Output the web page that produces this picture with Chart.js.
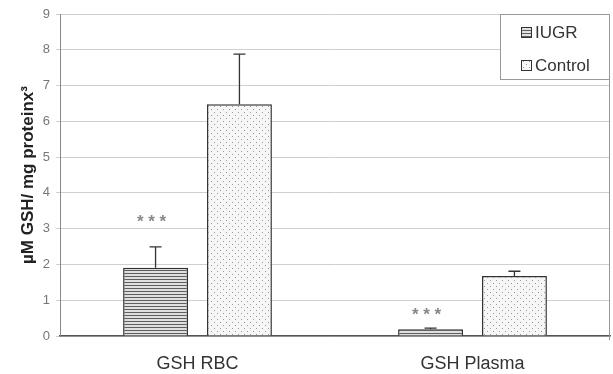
<!DOCTYPE html>
<html>
<head>
<meta charset="utf-8">
<script src="https://cdn.jsdelivr.net/npm/chart.js@4.4.1/dist/chart.umd.min.js"></script>
<style>
  html, body { margin: 0; padding: 0; background: #fff; }
  #wrap { width: 613px; height: 374px; position: relative; }
</style>
</head>
<body>
<div id="wrap"><canvas id="gsh"></canvas></div>
<script>
// data
const categories = ["GSH RBC", "GSH Plasma"];
const seriesNames = ["IUGR", "Control"];
const iugrVals = [1.91, 0.19];
const iugrErr = [0.58, 0.03];
const controlVals = [6.48, 1.68];
const controlErr = [1.40, 0.13];
const starLevels = [3.25, 0.65]; // "***" above the IUGR bars
const yTicks = [0, 1, 2, 3, 4, 5, 6, 7, 8, 9];

/* ---------- fill patterns ---------- */
function stripePattern() {
  const c = document.createElement("canvas");
  c.width = 4; c.height = 3;
  const g = c.getContext("2d");
  g.fillStyle = "#e0e0e0";
  g.fillRect(0, 0, 4, 3);
  g.fillStyle = "#5e5e5e";
  g.fillRect(0, 0, 4, 1);
  return g.createPattern(c, "repeat");
}

function dotPattern() {
  const c = document.createElement("canvas");
  c.width = 6; c.height = 6;
  const g = c.getContext("2d");
  g.fillStyle = "#f6f6f6";
  g.fillRect(0, 0, 6, 6);
  g.fillStyle = "#9a9a9a";
  g.fillRect(1, 1, 1, 1);
  g.fillRect(4, 4, 1, 1);
  return g.createPattern(c, "repeat");
}

const fills = [stripePattern(), dotPattern()];
const errs = [iugrErr, controlErr];

/* ---------- error bars + stars ---------- */
const errorBars = {
  id: "errorBars",
  afterDatasetsDraw(chart) {
    const { ctx, scales } = chart;
    ctx.save();
    ctx.strokeStyle = "#333";
    ctx.lineWidth = 1.3;
    chart.data.datasets.forEach((ds, i) => {
      const meta = chart.getDatasetMeta(i);
      meta.data.forEach((bar, j) => {
        const top = scales.y.getPixelForValue(ds.data[j] + errs[i][j]);
        ctx.beginPath();
        ctx.moveTo(bar.x, bar.y);
        ctx.lineTo(bar.x, top);
        ctx.moveTo(bar.x - 6, top);
        ctx.lineTo(bar.x + 6, top);
        ctx.stroke();
      });
    });
    // significance stars
    ctx.fillStyle = "#888";
    ctx.font = "bold 17px 'Liberation Sans', Arial, sans-serif";
    ctx.textAlign = "center";
    ctx.textBaseline = "middle";
    chart.getDatasetMeta(0).data.forEach((bar, j) => {
      ctx.fillText("* * *", bar.x - 4, scales.y.getPixelForValue(starLevels[j]) + 3);
    });
    ctx.restore();
  }
};

/* ---------- boxed legend inside the plot ---------- */
const boxLegend = {
  id: "boxLegend",
  afterDraw(chart) {
    const { ctx, chartArea } = chart;
    const w = 110, h = 66;
    const x = chartArea.right - w, y = chartArea.top;
    ctx.save();
    ctx.fillStyle = "#fff";
    ctx.fillRect(x, y, w, h);
    ctx.strokeStyle = "#999";
    ctx.lineWidth = 1;
    ctx.strokeRect(x + 0.5, y + 0.5, w - 1, h - 1);
    ctx.font = "17px 'Liberation Sans', Arial, sans-serif";
    ctx.textBaseline = "middle";
    seriesNames.forEach((name, i) => {
      const cy = y + 18 + i * 33;
      ctx.fillStyle = fills[i];
      ctx.fillRect(x + 21, cy - 5, 11, 11);
      ctx.strokeStyle = "#333";
      ctx.strokeRect(x + 21.5, cy - 4.5, 10, 10);
      ctx.fillStyle = "#333";
      ctx.fillText(name, x + 35, cy + 1);
    });
    ctx.restore();
  }
};

Chart.defaults.font.family = "'Liberation Sans', Arial, sans-serif";
Chart.defaults.animation = false;

new Chart(document.getElementById("gsh"), {
  type: "bar",
  data: {
    labels: categories,
    datasets: [
      {
        label: seriesNames[0],
        data: iugrVals,
        backgroundColor: fills[0],
        borderColor: "#333",
        borderWidth: 1.5
      },
      {
        label: seriesNames[1],
        data: controlVals,
        backgroundColor: fills[1],
        borderColor: "#333",
        borderWidth: 1.5
      }
    ]
  },
  options: {
    responsive: true,
    maintainAspectRatio: false,
    categoryPercentage: 0.61,
    barPercentage: 0.774,
    layout: { padding: { top: 14, right: 3, left: 0, bottom: 0 } },
    plugins: {
      legend: { display: false },
      tooltip: { enabled: false }
    },
    scales: {
      x: {
        grid: { display: false },
        border: { color: "#555", width: 1.5 },
        ticks: { color: "#333", font: { size: 18 }, padding: 9 },
        afterFit: s => { s.height = 38; }
      },
      y: {
        min: 0,
        max: 9,
        afterBuildTicks: s => { s.ticks = yTicks.map(v => ({ value: v })); },
        grid: { color: "#cfcfcf", drawTicks: true, tickLength: 4 },
        border: { color: "#888", width: 1 },
        ticks: { color: "#777", font: { size: 13 }, padding: 6 },
        title: {
          display: true,
          text: "µM GSH/ mg proteinx³",
          color: "#222",
          font: { size: 17, weight: "bold" },
          padding: { top: 18, bottom: 4 }
        },
        afterFit: s => { s.width = 60; }
      }
    }
  },
  plugins: [errorBars, boxLegend,
    {
      id: "rightEdge",
      beforeDatasetsDraw(chart) {
        const { ctx, chartArea } = chart;
        ctx.save();
        ctx.strokeStyle = "#999";
        ctx.lineWidth = 1;
        ctx.beginPath();
        ctx.moveTo(chartArea.right - 0.5, chartArea.top);
        ctx.lineTo(chartArea.right - 0.5, chartArea.bottom + 4);
        ctx.stroke();
        ctx.restore();
      }
    }
  ]
});
</script>
</body>
</html>
